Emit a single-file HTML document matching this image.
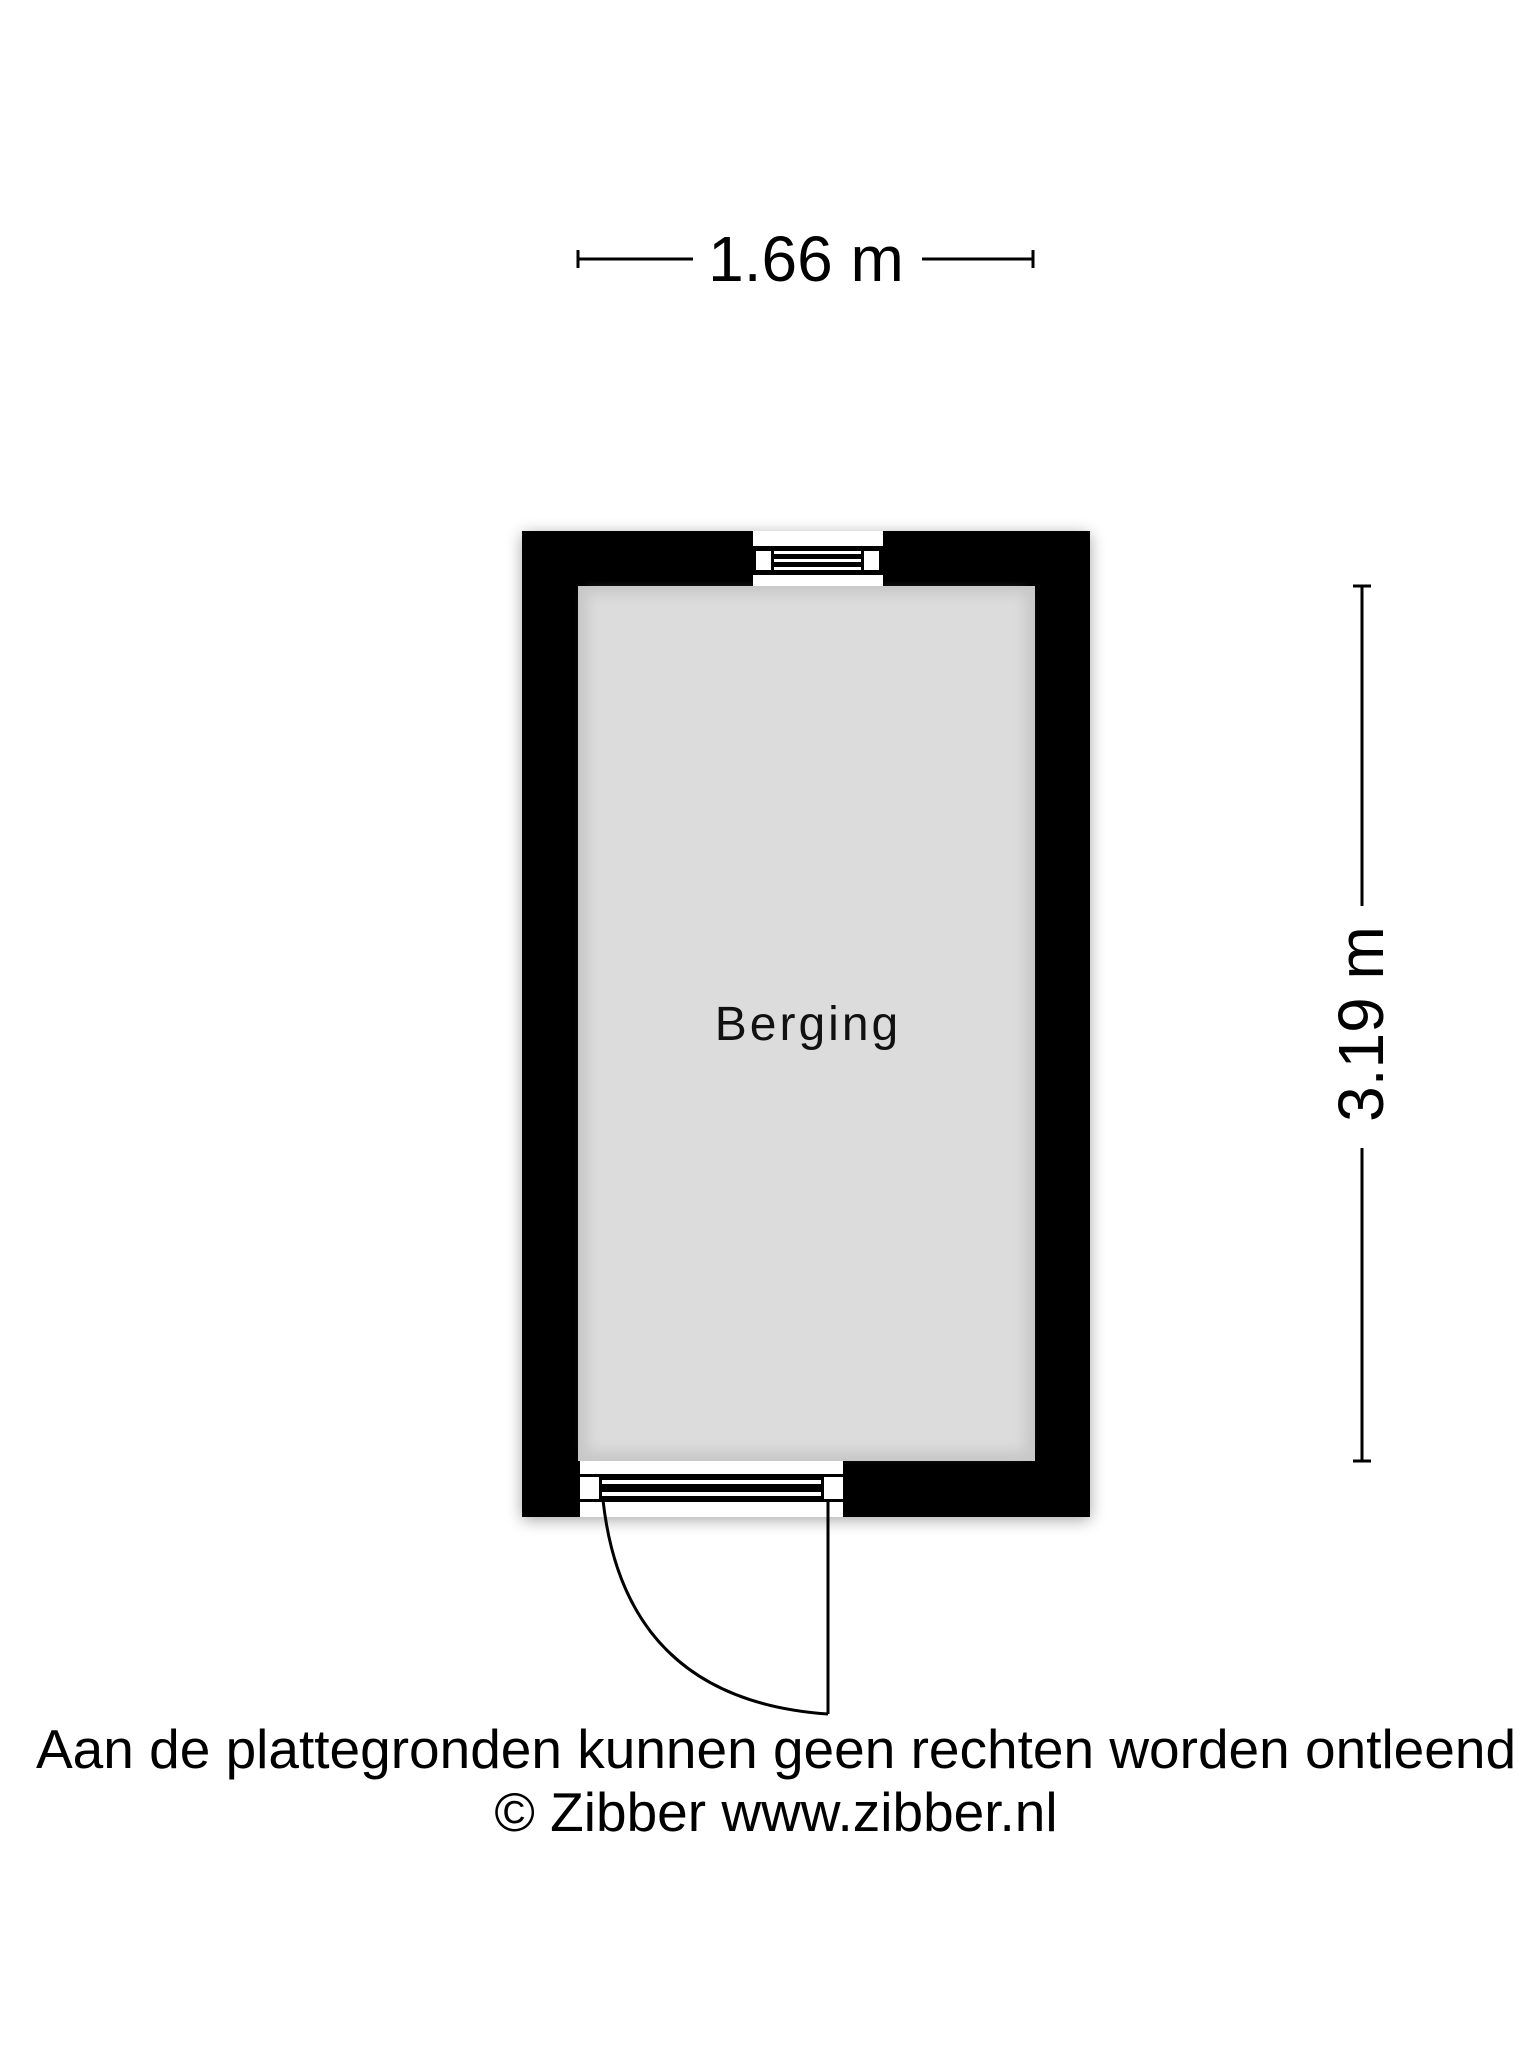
<!DOCTYPE html>
<html><head><style>
body{margin:0;width:1536px;height:2048px;background:#fff;overflow:hidden;font-family:"Liberation Sans",sans-serif}
</style></head><body>
<svg width="1536" height="2048" viewBox="0 0 1536 2048" xmlns="http://www.w3.org/2000/svg">
<defs>
<filter id="sh" x="-10%" y="-10%" width="120%" height="120%"><feGaussianBlur stdDeviation="8"/></filter>
<filter id="ish"><feGaussianBlur stdDeviation="6"/></filter>
</defs>
<line x1="578" y1="259" x2="693" y2="259" stroke="#000" stroke-width="3"/>
<line x1="922" y1="259" x2="1033" y2="259" stroke="#000" stroke-width="3"/>
<line x1="578" y1="250" x2="578" y2="268" stroke="#000" stroke-width="3"/>
<line x1="1033" y1="250" x2="1033" y2="268" stroke="#000" stroke-width="3"/>
<text x="806" y="281" font-size="64" text-anchor="middle" fill="#000">1.66 m</text>
<line x1="1362" y1="586" x2="1362" y2="906" stroke="#000" stroke-width="3"/>
<line x1="1362" y1="1148" x2="1362" y2="1461" stroke="#000" stroke-width="3"/>
<line x1="1353" y1="586" x2="1371" y2="586" stroke="#000" stroke-width="3"/>
<line x1="1353" y1="1461" x2="1371" y2="1461" stroke="#000" stroke-width="3"/>
<text transform="translate(1383,1024) rotate(-90)" font-size="64" text-anchor="middle" fill="#000">3.19 m</text>
<rect x="522" y="534" width="568" height="986" fill="#000" opacity="0.35" filter="url(#sh)"/>
<rect x="522" y="531" width="568" height="986" fill="#000"/>
<rect x="578" y="586" width="457" height="875" fill="#c8c8c8"/>
<rect x="588" y="594" width="437" height="857" fill="#dcdcdc" filter="url(#ish)"/>
<rect x="753" y="531" width="130" height="55" fill="#fff"/>
<rect x="753" y="546" width="130" height="29" fill="#000"/>
<rect x="756" y="551" width="15" height="19" fill="#fff"/>
<rect x="864" y="551" width="15" height="19" fill="#fff"/>
<rect x="774" y="551" width="87" height="3" fill="#fff"/>
<rect x="774" y="559" width="87" height="3" fill="#fff"/>
<rect x="774" y="567" width="87" height="3" fill="#fff"/>
<rect x="580" y="1461" width="263" height="56" fill="#fff"/>
<rect x="580" y="1474" width="263" height="3" fill="#000"/>
<rect x="580" y="1499" width="263" height="3" fill="#000"/>
<rect x="599" y="1474" width="225" height="28" fill="#000"/>
<rect x="602" y="1480" width="219" height="4" fill="#fff"/>
<rect x="602" y="1492" width="219" height="4" fill="#fff"/>
<line x1="828" y1="1500" x2="828" y2="1714" stroke="#000" stroke-width="3"/>
<path d="M603 1500 Q 625 1700 828 1714" fill="none" stroke="#000" stroke-width="3"/>
<text x="808" y="1040" font-size="48" text-anchor="middle" letter-spacing="3" fill="#111">Berging</text>
<text x="776" y="1768" font-size="55" text-anchor="middle" fill="#000">Aan de plattegronden kunnen geen rechten worden ontleend</text>
<text x="776" y="1831" font-size="55" text-anchor="middle" fill="#000">© Zibber www.zibber.nl</text>
</svg>
</body></html>
